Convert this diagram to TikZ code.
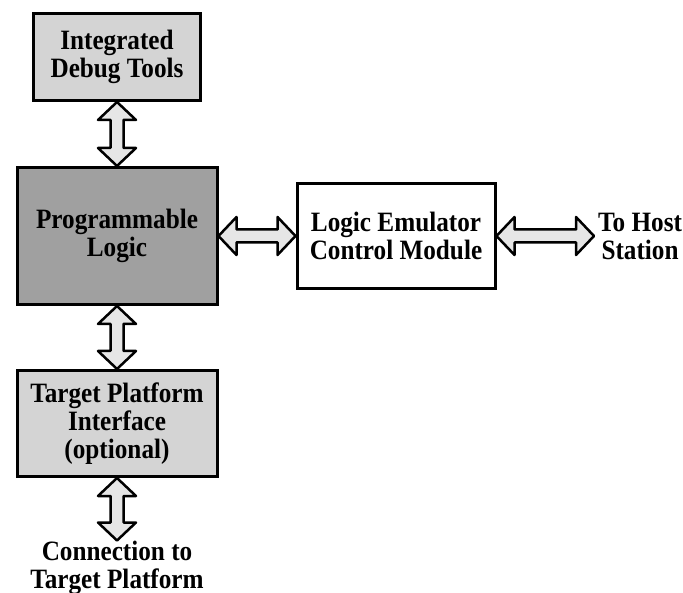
\documentclass[tikz,border=0pt]{standalone}
\usepackage{fontspec}
\setmainfont{Liberation Serif}[FakeStretch=0.9]
\usetikzlibrary{positioning,calc}
\definecolor{lgray}{HTML}{D4D4D4}
\definecolor{dgray}{HTML}{A0A0A0}
\definecolor{agray}{HTML}{E6E6E6}

% hollow double arrows between two named nodes
\newcommand{\vdarrow}[2]{%
  \draw[hollow] let \p1=(#1.south), \p2=(#2.north) in
    (\x1,\y1) -- (\x1-19pt,\y1-18pt) -- (\x1-6.5pt,\y1-18pt) -- (\x1-6.5pt,\y2+18pt)
    -- (\x1-19pt,\y2+18pt) -- (\x1,\y2) -- (\x1+19pt,\y2+18pt) -- (\x1+6.5pt,\y2+18pt)
    -- (\x1+6.5pt,\y1-18pt) -- (\x1+19pt,\y1-18pt) -- cycle;}
\newcommand{\hdarrow}[2]{%
  \draw[hollow] let \p1=(#1.east), \p2=(#2.west) in
    (\x1,\y1) -- (\x1+18pt,\y1+19pt) -- (\x1+18pt,\y1+6.5pt) -- (\x2-18pt,\y1+6.5pt)
    -- (\x2-18pt,\y1+19pt) -- (\x2,\y1) -- (\x2-18pt,\y1-19pt) -- (\x2-18pt,\y1-6.5pt)
    -- (\x1+18pt,\y1-6.5pt) -- (\x1+18pt,\y1-19pt) -- cycle;}

\begin{document}
\begin{tikzpicture}[x=1pt,y=1pt,font=\fontsize{28}{28}\selectfont\bfseries,
  lbox/.style={draw,line width=3pt,fill=lgray,align=center,inner sep=0pt},
  dbox/.style={lbox,fill=dgray},
  wbox/.style={lbox,fill=white},
  lbl/.style={align=center,inner xsep=4pt,inner ysep=0pt},
  hollow/.style={draw,line width=2.5pt,fill=agray,line join=round}]
  \useasboundingbox (0,0) rectangle (683,-593);
  \node[lbox,minimum width=167pt,minimum height=87pt] (idt) at (117,-57) {Integrated\\Debug Tools};
  \node[dbox,minimum width=200pt,minimum height=137pt,below=64pt of idt] (pl) {Programmable\\Logic};
  \node[wbox,minimum width=198pt,minimum height=105pt,right=77pt of pl] (lec) {Logic Emulator\\Control Module};
  \node[lbox,minimum width=200pt,minimum height=106pt,below=63pt of pl] (tpi) {Target Platform\\Interface\\(optional)};
  \node[lbl,right=97.5pt of lec] (host) {To Host\\Station};
  \node[lbl,below=62.5pt of tpi] (conn) {Connection to\\Target Platform};
  \vdarrow{idt}{pl} \vdarrow{pl}{tpi} \vdarrow{tpi}{conn}
  \hdarrow{pl}{lec} \hdarrow{lec}{host}
\end{tikzpicture}
\end{document}
